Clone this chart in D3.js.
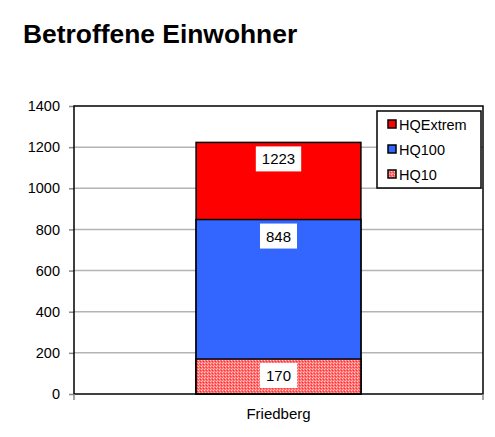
<!DOCTYPE html>
<html>
<head>
<meta charset="utf-8">
<script src="https://cdn.jsdelivr.net/npm/d3@7"></script>
<style>
  body { margin: 0; background: #fff; }
  svg { font-family: "Liberation Sans", Arial, sans-serif; }
</style>
</head>
<body>
<div id="chart"></div>
<script>
const title = "Betroffene Einwohner";
const categories = ["Friedberg"];
// drawn back to front: each bar starts at 0 (100% overlap)
const series = ["HQExtrem", "HQ100", "HQ10"];
const values = [1223, 848, 170];
const colors = ["#ff0000", "#3366ff", "url(#hatch)"];
const yTicks = [0, 200, 400, 600, 800, 1000, 1200, 1400];

const width = 495, height = 437;
const margin = {top: 106, right: 12, bottom: 43, left: 74};

const svg = d3.select("#chart").append("svg")
    .attr("width", width)
    .attr("height", height);

// fine red/white dot pattern for HQ10
const defs = svg.append("defs");
const pat = defs.append("pattern")
    .attr("id", "hatch")
    .attr("patternUnits", "userSpaceOnUse")
    .attr("width", 3)
    .attr("height", 3);
pat.append("rect").attr("width", 3).attr("height", 3).attr("fill", "#ff6f6f");
pat.append("rect").attr("x", 0).attr("y", 0).attr("width", 1).attr("height", 1).attr("fill", "#ffd0d0");
pat.append("rect").attr("x", 2).attr("y", 1).attr("width", 1).attr("height", 1).attr("fill", "#ff3030");
pat.append("rect").attr("x", 1).attr("y", 2).attr("width", 1).attr("height", 1).attr("fill", "#ffb0b0");

svg.append("text")
    .attr("x", 23)
    .attr("y", 43)
    .attr("font-size", 26.4)
    .attr("font-weight", "bold")
    .text(title);

const x = d3.scaleBand()
    .domain(categories)
    .range([margin.left, width - margin.right])
    .paddingInner(0)
    .paddingOuter(0);

const y = d3.scaleLinear()
    .domain([0, 1400])
    .range([height - margin.bottom, margin.top]);

// gridlines
svg.append("g")
    .selectAll("line")
    .data(yTicks.filter(d => d > 0 && d < 1400))
    .join("line")
    .attr("x1", margin.left)
    .attr("x2", width - margin.right)
    .attr("y1", d => y(d))
    .attr("y2", d => y(d))
    .attr("stroke", "#b4b4b4")
    .attr("stroke-width", 1.5);

// y axis
const yAxis = svg.append("g")
    .attr("transform", `translate(${margin.left},0)`)
    .call(d3.axisLeft(y).tickValues(yTicks).tickFormat(d3.format("d")).tickSize(5).tickPadding(9));
yAxis.select(".domain").remove();
yAxis.selectAll(".tick line").attr("stroke", "#888").attr("stroke-width", 1.5);
yAxis.selectAll(".tick text")
    .attr("font-size", 14.5)
    .attr("font-family", "Liberation Sans, Arial, sans-serif")
    .attr("fill", "#000");

// bars
const bw = x.bandwidth() * 0.403;
const bx = x(categories[0]) + (x.bandwidth() - bw) / 2;

svg.append("g")
    .selectAll("rect")
    .data(values)
    .join("rect")
    .attr("x", bx)
    .attr("width", bw)
    .attr("y", d => y(d))
    .attr("height", d => y(0) - y(d))
    .attr("fill", (d, i) => colors[i])
    .attr("stroke", "#000")
    .attr("stroke-width", 1.5);

// value labels (inside end, white box)
const lab = svg.append("g")
    .selectAll("g")
    .data(values)
    .join("g")
    .attr("transform", d => `translate(${bx + bw / 2},${y(d) + 4})`);
lab.append("text")
    .attr("text-anchor", "middle")
    .attr("y", 18)
    .attr("font-size", 15)
    .text(d => d);
lab.each(function () {
    const g = d3.select(this);
    const w = g.select("text").node().getComputedTextLength();
    g.insert("rect", "text")
        .attr("x", -w / 2 - 6)
        .attr("y", 0)
        .attr("width", w + 12)
        .attr("height", 25)
        .attr("fill", "#fff");
});

// plot frame
svg.append("rect")
    .attr("x", margin.left)
    .attr("y", margin.top)
    .attr("width", width - margin.left - margin.right)
    .attr("height", height - margin.top - margin.bottom)
    .attr("fill", "none")
    .attr("stroke", "#000")
    .attr("stroke-width", 1.5);

// x category boundary ticks + label
svg.append("g")
    .selectAll("line")
    .data([margin.left, width - margin.right])
    .join("line")
    .attr("x1", d => d)
    .attr("x2", d => d)
    .attr("y1", y(0))
    .attr("y2", y(0) + 6)
    .attr("stroke", "#888")
    .attr("stroke-width", 1.5);

svg.append("text")
    .attr("x", x(categories[0]) + x.bandwidth() / 2)
    .attr("y", 419)
    .attr("text-anchor", "middle")
    .attr("font-size", 15)
    .text(categories[0]);

// legend
const legend = svg.append("g").attr("transform", "translate(377,111)");
legend.append("rect")
    .attr("width", 104)
    .attr("height", 77)
    .attr("fill", "#fff")
    .attr("stroke", "#000")
    .attr("stroke-width", 1.5);
const li = legend.selectAll("g")
    .data(series)
    .join("g")
    .attr("transform", (d, i) => `translate(11,${13 + i * 25})`);
li.append("rect")
    .attr("x", 0)
    .attr("y", -4)
    .attr("width", 8)
    .attr("height", 8)
    .attr("fill", (d, i) => colors[i])
    .attr("stroke", "#000")
    .attr("stroke-width", 1.5);
li.append("text")
    .attr("x", 11)
    .attr("y", 5.5)
    .attr("font-size", 14.5)
    .text(d => d);
</script>
</body>
</html>
